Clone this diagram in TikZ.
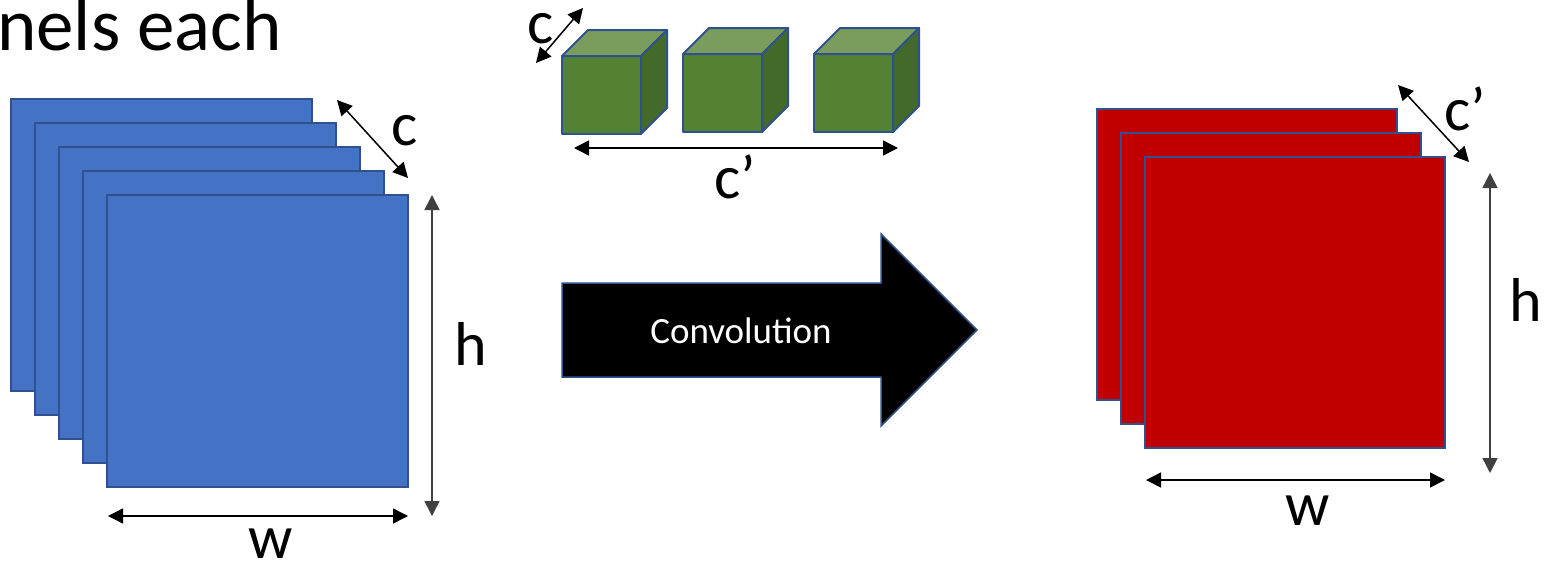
\documentclass[tikz,border=0pt]{standalone}
\usepackage{fontspec}
\setmainfont{Carlito}
\usetikzlibrary{arrows.meta}
\definecolor{bfill}{HTML}{4472C4}
\definecolor{bord}{HTML}{2F528F}
\definecolor{rfill}{HTML}{C00000}
\definecolor{gfront}{HTML}{548235}
\definecolor{gtop}{HTML}{7A9D5E}
\definecolor{gside}{HTML}{436A2B}
\definecolor{darkline}{HTML}{404040}
\tikzset{
  sqblue/.style={fill=bfill, draw=bord, line width=2pt},
  sqred/.style={fill=rfill, draw=bord, line width=2pt},
  cubeedge/.style={draw=bord, line width=2pt, line join=round},
  dimarrow/.style={{Triangle[length=15pt,width=15pt]}-{Triangle[length=15pt,width=15pt]}, line width=1.5pt},
  lbl/.style={font=\fontsize{62}{62}\selectfont, inner sep=0pt, anchor=base},
  gcube/.pic={
    \draw[cubeedge, fill=gfront] (0,0) rectangle (79,78);
    \draw[cubeedge, fill=gtop] (0,0) -- (26,-26) -- (105,-26) -- (79,0) -- cycle;
    \draw[cubeedge, fill=gside] (79,0) -- (105,-26) -- (105,52) -- (79,78) -- cycle;
  }
}
\begin{document}
\begin{tikzpicture}[x=1pt, y=-1pt]
\useasboundingbox (0,0) rectangle (1544,563);
\fill[white] (0,0) rectangle (1544,563);

% title fragment
\node[font=\fontsize{75}{75}\selectfont, inner sep=0pt, anchor=base west] (title) at (-3,50) {nels each};

% blue input stack
\foreach \i in {0,...,4}
  \draw[sqblue] ({11+24*\i},{99+24*\i}) rectangle ++(301,292);

\coordinate (bc1) at (337,100); \coordinate (bc2) at (408,178);
\draw[dimarrow] (bc1) -- (bc2);
\node[lbl] (bcl) at (405,145) {c};
\coordinate (bh1) at (432,195); \coordinate (bh2) at (432,516);
\draw[dimarrow, darkline] (bh1) -- (bh2);
\node[lbl] (bhl) at (471,365) {h};
\coordinate (bw1) at (108,516); \coordinate (bw2) at (408,516);
\draw[dimarrow] (bw1) -- (bw2);
\node[lbl] (bwl) at (271,558) {w};

% green kernels
\pic at (562,56) {gcube};
\pic at (683,54) {gcube};
\pic at (814,54) {gcube};
\coordinate (kc1) at (536,63); \coordinate (kc2) at (583,8);
\draw[dimarrow] (kc1) -- (kc2);
\node[lbl] (kcl) at (541,43) {c};
\coordinate (kw1) at (574,148); \coordinate (kw2) at (898,148);
\draw[dimarrow] (kw1) -- (kw2);
\node[lbl] (kwl) at (735,198) {c’};

% convolution arrow
\draw[fill=black, draw=bord, line width=1.5pt, line join=miter]
  (562,283) -- (881,283) -- (881,234) -- (977,330) -- (881,426) -- (881,377) -- (562,377) -- cycle;
\node[font=\fontsize{37}{37}\selectfont, text=white, inner sep=0pt, anchor=base] (conv) at (741,343) {Convolution};

% red output stack
\foreach \i in {0,...,2}
  \draw[sqred] ({1097+24*\i},{109+24*\i}) rectangle ++(300,291);
\coordinate (rc1) at (1398,85); \coordinate (rc2) at (1469,162);
\draw[dimarrow] (rc1) -- (rc2);
\node[lbl] (rcl) at (1465,130) {c’};
\coordinate (rh1) at (1490,173); \coordinate (rh2) at (1490,473);
\draw[dimarrow, darkline] (rh1) -- (rh2);
\node[lbl] (rhl) at (1526,321) {h};
\coordinate (rw1) at (1146,480); \coordinate (rw2) at (1445,480);
\draw[dimarrow] (rw1) -- (rw2);
\node[lbl] (rwl) at (1308,525) {w};
\end{tikzpicture}
\end{document}
